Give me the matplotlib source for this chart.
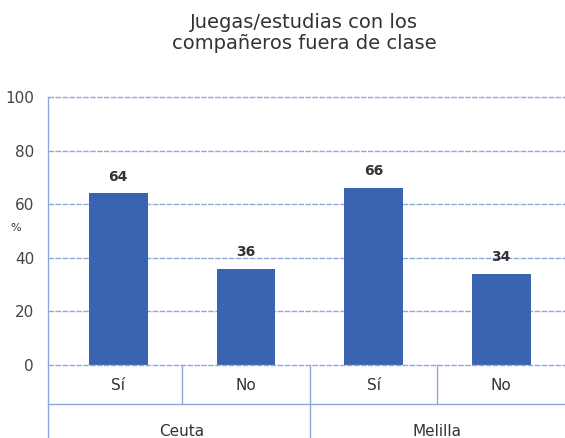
import numpy as np
import matplotlib.pyplot as plt

# datos
ciudades = ['Ceuta', 'Melilla']
respuestas = ['Sí', 'No', 'Sí', 'No']
porcentajes = [64, 36, 66, 34]
yticks = [0, 20, 40, 60, 80, 100]

azul = '#3a63b2'
linea = '#8fa8dc'
texto = '#333333'

plt.rcParams['font.family'] = ['DejaVu Sans']

fig = plt.figure(figsize=(5.65, 4.38), dpi=100)
ax = fig.add_axes([48 / 565, 73 / 438, 517 / 565, 268 / 438])

x = np.arange(len(porcentajes))
ax.bar(x, porcentajes, width=0.46, color=azul, zorder=3)

for xi, v in zip(x, porcentajes):
    ax.annotate(str(v), (xi, v), xytext=(0, 12), textcoords='offset points',
                ha='center', va='center', fontsize=10, fontweight='bold', color=texto)

ax.set_xlim(-0.55, 3.5)
ax.set_ylim(0, 100)
ax.set_yticks(yticks)
ax.set_yticklabels([str(t) for t in yticks], fontsize=11, color='#444444')
ax.tick_params(axis='y', length=0, pad=10)
ax.set_xticks([])
for yt in yticks:
    ax.axhline(yt, color=linea, lw=1.0, ls=(0, (4, 1)), zorder=4 if yt == 0 else 1, clip_on=False)
for s in ['top', 'right', 'bottom']:
    ax.spines[s].set_visible(False)
ax.spines['left'].set_color(linea)
ax.spines['left'].set_linewidth(1.0)
ax.set_ylabel('%', fontsize=8, color=texto, rotation=0, va='center', ha='center')
ax.yaxis.set_label_coords(-0.062, 0.51)

# tabla de categorias debajo del eje
tr = ax.get_xaxis_transform()
fila1 = -39 / 268
ax.plot([-0.55, 3.5], [fila1, fila1], color=linea, lw=1.0, transform=tr, clip_on=False)
ax.plot([-0.55, -0.55], [0, -0.5], color=linea, lw=1.0, transform=tr, clip_on=False)
for sx in [0.5, 2.5]:
    ax.plot([sx, sx], [0, fila1], color=linea, lw=1.0, transform=tr, clip_on=False)
ax.plot([1.5, 1.5], [0, -0.5], color=linea, lw=1.0, transform=tr, clip_on=False)
for xi, r in zip(x, respuestas):
    ax.text(xi, -20 / 268, r, transform=tr, ha='center', va='center', fontsize=11, color=texto)
for xc, c in zip([0.5, 2.5], ciudades):
    ax.text(xc, -66 / 268, c, transform=tr, ha='center', va='center', fontsize=11, color=texto)

fig.text(304 / 565, 1 - 33 / 438, 'Juegas/estudias con los\ncompañeros fuera de clase',
         ha='center', va='center', fontsize=14, color=texto, linespacing=1.15)

fig.savefig('out.png', dpi=100)
